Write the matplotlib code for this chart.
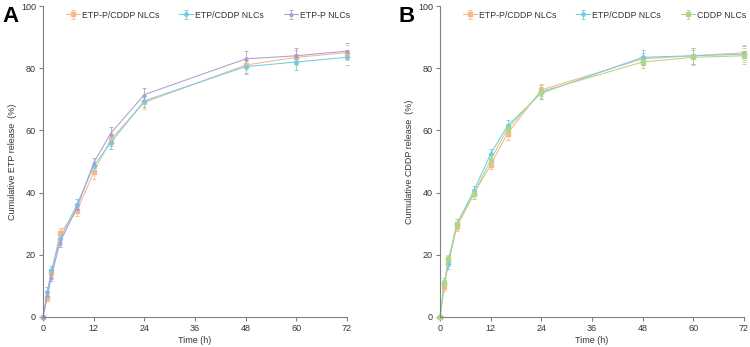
import numpy as np
import matplotlib.pyplot as plt

plt.rcParams['font.family'] = ['Liberation Sans', 'DejaVu Sans']

time_h = [0, 1, 2, 4, 8, 12, 16, 24, 48, 60, 72]

# panel A - cumulative ETP release
a_etpp_cddp = [0, 6, 14, 27, 34, 46.5, 57, 69, 81, 83.5, 85]
a_etpp_cddp_err = [0, 1, 1.5, 1.5, 1.5, 2, 2, 2, 2.5, 2.5, 2.5]
a_etp_cddp = [0, 8, 15, 25, 36, 48.5, 56, 69.5, 80.5, 82, 83.5]
a_etp_cddp_err = [0, 1.5, 1.5, 2, 2, 1.5, 2, 2, 2.5, 2.5, 2.5]
a_etpp = [0, 7, 13, 24, 35, 49.5, 59, 71.5, 83, 84, 85.5]
a_etpp_err = [0, 1, 1.5, 1.5, 1.5, 1.5, 2, 2, 2.5, 2.5, 2.5]

# panel B - cumulative CDDP release
b_etpp_cddp = [0, 9.5, 18, 29, 39.5, 49, 59, 73, 83, 84, 85]
b_etpp_cddp_err = [0, 1, 1.5, 1.5, 1.5, 1.5, 2, 2, 2, 2.5, 2.5]
b_etp_cddp = [0, 11, 17, 30, 40.5, 52.5, 61.5, 72, 83.5, 84, 84.5]
b_etp_cddp_err = [0, 1.5, 1.5, 1.5, 1.5, 1.5, 2, 2, 2.5, 2.5, 2.5]
b_cddp = [0, 11, 18.5, 30, 39.5, 50.5, 60.5, 72.5, 82, 83.5, 84]
b_cddp_err = [0, 1, 1.5, 1.5, 1.5, 1.5, 1.5, 2, 2, 2.5, 2.5]

c_orange = '#F7B88A'
c_blue = '#72CDE3'
c_purple = '#AE9DD3'
c_green = '#B0D68A'
grey = '#808080'
txt = '#333333'

fig = plt.figure(figsize=(7.5, 3.47), dpi=100)
ax1 = fig.add_axes([43 / 750, 30 / 347, 304 / 750, 311 / 347])
ax2 = fig.add_axes([440 / 750, 30 / 347, 304 / 750, 311 / 347])


def draw(ax, series, ylabel, letter):
    for y, err, col, mk, lab in series:
        ax.errorbar(time_h, y, yerr=err, color=col, marker=mk, markersize=2.3,
                    lw=0.75, elinewidth=0.6, capsize=1.5, capthick=0.6, label=lab)
    ax.set_xlim(0, 72)
    ax.set_ylim(0, 100)
    ax.set_xticks([0, 12, 24, 36, 48, 60, 72])
    ax.set_yticks([0, 20, 40, 60, 80, 100])
    for s in ['top', 'right']:
        ax.spines[s].set_visible(False)
    for s in ['left', 'bottom']:
        ax.spines[s].set_color(grey)
        ax.spines[s].set_linewidth(0.8)
    ax.tick_params(labelcolor=txt, color=grey, labelsize=6.5, length=3,
                   width=0.8, pad=2)
    ax.set_xlabel('Time (h)', fontsize=6.5, color=txt, labelpad=2)
    ax.set_ylabel(ylabel, fontsize=6.5, color=txt, labelpad=3)
    leg = ax.legend(loc='center left', bbox_to_anchor=(0.075, 0.971), ncol=3,
                    frameon=False, fontsize=6.3, handlelength=1.6,
                    columnspacing=2.3, handletextpad=0.2, borderpad=0,
                    borderaxespad=0)
    for t in leg.get_texts():
        t.set_color(txt)
    ax.text(-0.135, 1.0, letter, transform=ax.transAxes, fontsize=16,
            fontweight='bold', va='top', ha='left')


draw(ax1, [(a_etpp_cddp, a_etpp_cddp_err, c_orange, 's', 'ETP-P/CDDP NLCs'),
           (a_etp_cddp, a_etp_cddp_err, c_blue, 'D', 'ETP/CDDP NLCs'),
           (a_etpp, a_etpp_err, c_purple, '^', 'ETP-P NLCs')],
     'Cumulative ETP release  (%)', 'A')
draw(ax2, [(b_etpp_cddp, b_etpp_cddp_err, c_orange, 's', 'ETP-P/CDDP NLCs'),
           (b_etp_cddp, b_etp_cddp_err, c_blue, 'D', 'ETP/CDDP NLCs'),
           (b_cddp, b_cddp_err, c_green, 's', 'CDDP NLCs')],
     'Cumulative CDDP release  (%)', 'B')

for ax in (ax1, ax2):
    for ln in ax.lines:
        ln.set_clip_on(False)

fig.savefig('out.png', dpi=100)
